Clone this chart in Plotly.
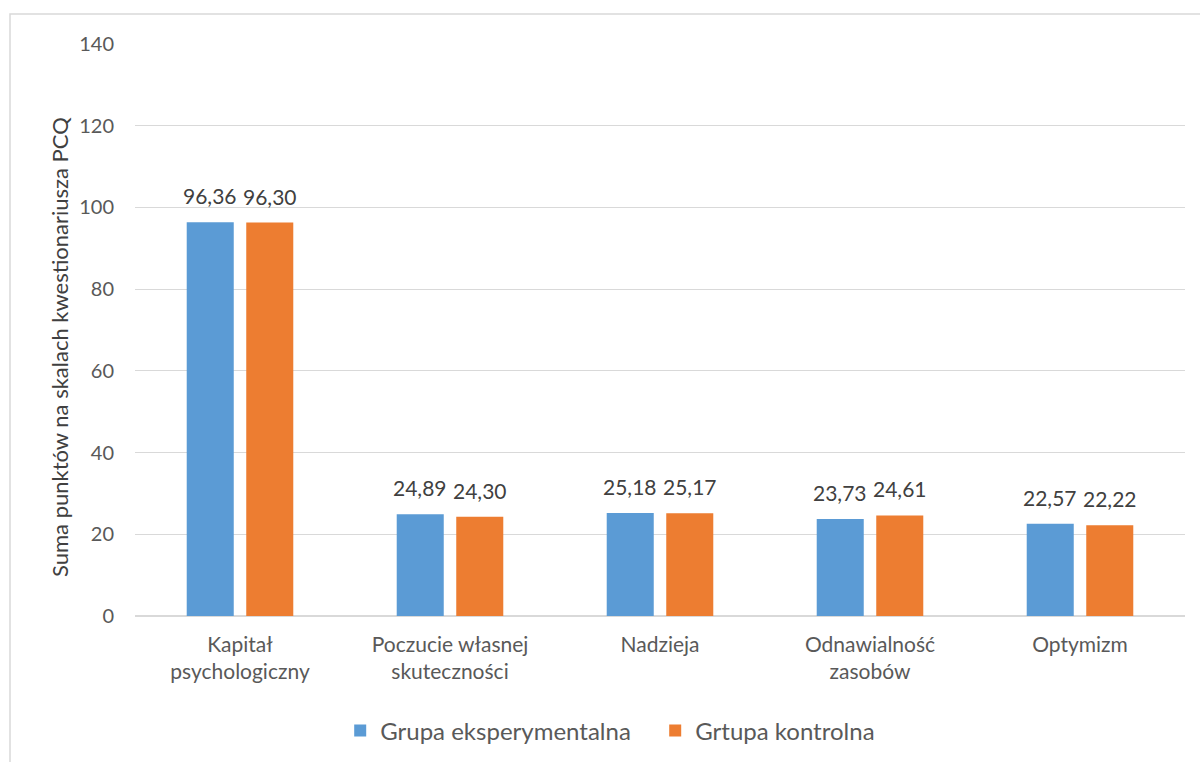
import plotly.graph_objects as go

categories = [
    "Kapitał<br>psychologiczny",
    "Poczucie własnej<br>skuteczności",
    "Nadzieja",
    "Odnawialność<br>zasobów",
    "Optymizm",
]
grupa_eksperymentalna = [96.36, 24.89, 25.18, 23.73, 22.57]
grupa_kontrolna = [96.30, 24.30, 25.17, 24.61, 22.22]
y_ticks = [0, 20, 40, 60, 80, 100, 120, 140]
y_title = "Suma punktów na skalach kwestionariusza PCQ"

FONT = "Lato, 'Open Sans', sans-serif"
TEXT = "#595959"
LABEL = "#404040"

series = [
    ("Grupa eksperymentalna", grupa_eksperymentalna, "#5B9BD5", -29.75),
    ("Grtupa kontrolna", grupa_kontrolna, "#ED7D31", 29.75),
]

fig = go.Figure()
annotations = []
for name, values, color, shift in series:
    fig.add_trace(go.Bar(
        x=categories, y=values, name=name,
        marker=dict(color=color, line=dict(width=0)),
    ))
    # value labels sit a little above each bar
    for cat, v in zip(categories, values):
        annotations.append(dict(
            x=cat, y=v, xref="x", yref="y", xshift=shift, yshift=12,
            yanchor="bottom", showarrow=False,
            text=f"{v:.2f}".replace(".", ","),
            font=dict(family=FONT, size=21, color=LABEL),
        ))

# rotated y-axis title
annotations.append(dict(
    text=y_title, textangle=-90, showarrow=False,
    xref="paper", yref="paper", x=(59 - 135) / 1050, y=(616 - 347) / 572,
    xanchor="center", yanchor="middle",
    font=dict(family=FONT, size=22, color=LABEL),
))

fig.update_layout(
    width=1200, height=762,
    margin=dict(l=135, r=15, t=44, b=146),
    paper_bgcolor="white", plot_bgcolor="white",
    barmode="group", bargap=0.433, bargroupgap=0.21,
    font=dict(family=FONT, color=TEXT, size=20),
    showlegend=True,
    legend=dict(
        orientation="h", xref="container", yref="container",
        x=0.546, xanchor="center", y=1 - 731 / 762, yanchor="middle",
        font=dict(family=FONT, size=24, color=TEXT),
        itemwidth=30, traceorder="normal", entrywidth=270,
    ),
    annotations=annotations,
    shapes=[
        dict(type="rect", xref="paper", yref="paper",
             x0=-125 / 1050, x1=1.05, y0=-0.4, y1=1 + 30 / 572,
             line=dict(color="#d9d9d9", width=1.5), fillcolor="rgba(0,0,0,0)",
             layer="below"),
    ],
)

fig.update_xaxes(
    showgrid=False, showline=False, ticks="", ticklabelstandoff=14,
    tickfont=dict(family=FONT, size=21, color=TEXT),
)
fig.update_yaxes(
    range=[0, 140], tickvals=y_ticks, showgrid=True, gridcolor="#d9d9d9",
    gridwidth=1, zeroline=True, zerolinecolor="#d9d9d9", zerolinewidth=1.5,
    showline=False, ticks="", ticklabelstandoff=20,
    tickfont=dict(family=FONT, size=20, color=TEXT),
)

fig.write_html("out.html")
